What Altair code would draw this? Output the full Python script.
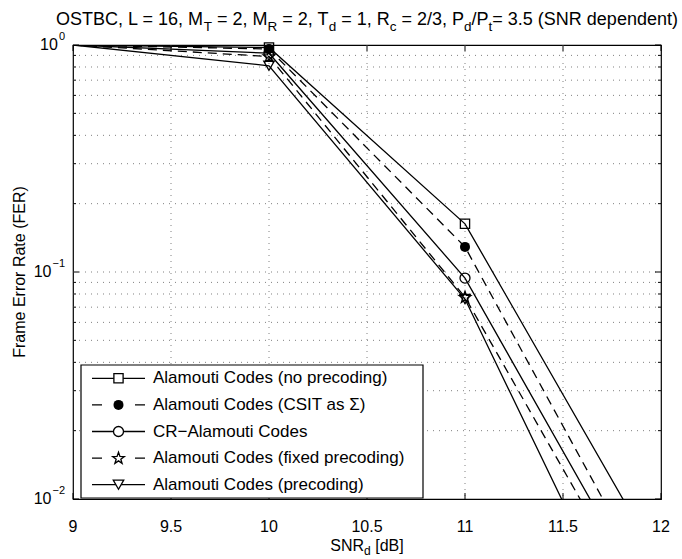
import math
import altair as alt
import pandas as pd

# ---------------- data ----------------
snr = [9, 10, 11, 12]
series_names = [
    "Alamouti Codes (no precoding)",
    "Alamouti Codes (CSIT as Σ)",
    "CR−Alamouti Codes",
    "Alamouti Codes (fixed precoding)",
    "Alamouti Codes (precoding)",
]
fer_no_precoding = [1.0, 0.975, 0.163, 0.0051]
fer_csit = [1.0, 0.96, 0.129, 0.0034]
fer_cr = [1.0, 0.92, 0.094, 0.0028]
fer_fixed = [1.0, 0.89, 0.0775, 0.00237]
fer_precoding = [1.0, 0.81, 0.076, 0.00124]
series_values = [fer_no_precoding, fer_csit, fer_cr, fer_fixed, fer_precoding]
series_filled = [False, True, False, False, False]
series_dashed = [False, True, False, True, False]

x_ticks = [9, 9.5, 10, 10.5, 11, 11.5, 12]
x_tick_labels = ["9", "9.5", "10", "10.5", "11", "11.5", "12"]
y_major = [1, 0.1, 0.01]
y_major_exp = ["0", "−1", "−2"]
y_minor = [0.02, 0.03, 0.04, 0.05, 0.06, 0.07, 0.08, 0.09,
           0.2, 0.3, 0.4, 0.5, 0.6, 0.7, 0.8, 0.9]

title_segments = [("OSTBC, L = 16, M", 0), ("T", 1), (" = 2, M", 0), ("R", 1),
                  (" = 2, T", 0), ("d", 1), (" = 1, R", 0), ("c", 1),
                  (" = 2/3, P", 0), ("d", 1), ("/P", 0), ("t", 1),
                  ("= 3.5 (SNR dependent)", 0)]
xlabel_segments = [("SNR", 0), ("d", 1), (" [dB]", 0)]
ylabel_text = "Frame Error Rate (FER)"

# ---------------- styles / layout ----------------
# five-pointed star symbol path in the [-1, 1] box
_pts = []
for k in range(10):
    r = 1.0 if k % 2 == 0 else 0.40
    ang = math.radians(-90 + 36 * k)
    _pts.append(f"{r * math.cos(ang):.3f},{r * math.sin(ang) + 0.05:.3f}")
STAR = "M" + " L".join(_pts) + " Z"
series_shapes = ["square", "circle", "circle", STAR, "triangle-down"]
series_sizes = [85, 100, 100, 150, 110]

W, H = 588, 454
FONT = "Liberation Sans"
one = pd.DataFrame({"a": [0]})
xs = alt.Scale(domain=[9, 12], nice=False, zero=False)
ys = alt.Scale(type="log", domain=[0.01, 1], nice=False)

AW = {' ': 278, ',': 278, '.': 278, '/': 278, '=': 584, '(': 333, ')': 333,
      '[': 278, ']': 278, '−': 584, '-': 333,
      'O': 778, 'S': 667, 'T': 611, 'B': 667, 'C': 722, 'L': 556, 'M': 833,
      'R': 722, 'P': 667, 'N': 722, 'd': 556, 'e': 556, 'p': 556, 'n': 556,
      't': 278, 'c': 500}
for dch in "0123456789":
    AW[dch] = 556


def text_width(s, size):
    return sum(AW.get(c, 556) for c in s) * size / 1000.0


def seg_marks(segments, x_center, y_base, size, sub_scale=0.75, sub_dy=6):
    total = sum(text_width(t, size * sub_scale if sub else size) for t, sub in segments)
    x = x_center - total / 2
    marks = []
    for t, sub in segments:
        fs = size * sub_scale if sub else size
        lead = len(t) - len(t.lstrip(" "))
        shown = t.strip(" ")
        xpos = x + text_width(" " * lead, fs)
        if shown:
            marks.append(
                alt.Chart(one).mark_text(text=shown, align="left", baseline="alphabetic",
                                         font=FONT, fontSize=fs, color="black")
                .encode(x=alt.value(xpos), y=alt.value(y_base + (sub_dy if sub else 0)))
            )
        x += text_width(t, fs)
    return marks


layers = []

# grid
grid_col = "#808080"
layers.append(
    alt.Chart(pd.DataFrame({"v": x_ticks[1:-1]}))
    .mark_rule(color=grid_col, strokeWidth=1, strokeDash=[1, 5])
    .encode(x=alt.X("v:Q", scale=xs, axis=None), y=alt.value(0), y2=alt.value(H))
)
layers.append(
    alt.Chart(pd.DataFrame({"v": y_minor + [0.1]}))
    .mark_rule(color=grid_col, strokeWidth=1, strokeDash=[1, 5])
    .encode(y=alt.Y("v:Q", scale=ys, axis=None), x=alt.value(0), x2=alt.value(W))
)

# ticks (inward, on all four sides)
xt = pd.DataFrame({"v": x_ticks})
for y0, y1 in [(H, H - 6), (0, 6)]:
    layers.append(
        alt.Chart(xt).mark_rule(color="black", strokeWidth=1)
        .encode(x=alt.X("v:Q", scale=xs, axis=None), y=alt.value(y0), y2=alt.value(y1))
    )
for vals, ln in [(y_major, 6), (y_minor, 3)]:
    yt = pd.DataFrame({"v": vals})
    for x0, x1 in [(0, ln), (W, W - ln)]:
        layers.append(
            alt.Chart(yt).mark_rule(color="black", strokeWidth=1)
            .encode(y=alt.Y("v:Q", scale=ys, axis=None), x=alt.value(x0), x2=alt.value(x1))
        )

# data lines and markers
for name, vals, shp, sz, fil, dsh in zip(series_names, series_values, series_shapes,
                                         series_sizes, series_filled, series_dashed):
    df = pd.DataFrame({"snr": snr, "fer": vals, "series": name})
    line_kw = dict(color="black", strokeWidth=1.3, clip=True)
    if dsh:
        line_kw["strokeDash"] = [9, 6]
    layers.append(
        alt.Chart(df).mark_line(**line_kw)
        .encode(x=alt.X("snr:Q", scale=xs, axis=None), y=alt.Y("fer:Q", scale=ys, axis=None))
    )
    layers.append(
        alt.Chart(df).transform_filter("datum.snr > 9 && datum.snr < 12")
        .mark_point(shape=shp, filled=fil, color="black", size=sz,
                    strokeWidth=1.3, opacity=1)
        .encode(x=alt.X("snr:Q", scale=xs, axis=None), y=alt.Y("fer:Q", scale=ys, axis=None))
    )

# legend
LX0, LX1, LY0, LY1 = 8, 350, 320, 453
layers.append(
    alt.Chart(one).mark_rect(fill="white", stroke="black", strokeWidth=1.2)
    .encode(x=alt.value(LX0), x2=alt.value(LX1), y=alt.value(LY0), y2=alt.value(LY1))
)
row_h = (LY1 - LY0) / len(series_names)
for i, (name, shp, sz, fil, dsh) in enumerate(zip(series_names, series_shapes, series_sizes,
                                                  series_filled, series_dashed)):
    ry = LY0 + row_h * (i + 0.5)
    rule_kw = dict(color="black", strokeWidth=1.3)
    if dsh:
        rule_kw["strokeDash"] = [10, 33]
    layers.append(
        alt.Chart(one).mark_rule(**rule_kw)
        .encode(x=alt.value(19), x2=alt.value(72), y=alt.value(ry))
    )
    layers.append(
        alt.Chart(one).mark_point(shape=shp, filled=fil, color="black", size=sz,
                                  strokeWidth=1.3, opacity=1,
                                  fill="black" if fil else "white")
        .encode(x=alt.value(45.5), y=alt.value(ry))
    )
    layers.append(
        alt.Chart(one).mark_text(text=name, align="left", baseline="middle",
                                 font=FONT, fontSize=17, color="black")
        .encode(x=alt.value(80), y=alt.value(ry))
    )

# x tick labels
layers.append(
    alt.Chart(pd.DataFrame({"v": x_ticks, "lab": x_tick_labels}))
    .mark_text(baseline="alphabetic", align="center", font=FONT, fontSize=16, color="black")
    .encode(x=alt.X("v:Q", scale=xs, axis=None), y=alt.value(H + 33), text="lab:N")
)

# y tick labels (10 with superscript exponent)
for v, e in zip(y_major, y_major_exp):
    ew = text_width(e, 11)
    d = pd.DataFrame({"v": [v]})
    layers.append(
        alt.Chart(d).mark_text(text="10", align="right", baseline="middle",
                               font=FONT, fontSize=16, color="black")
        .encode(y=alt.Y("v:Q", scale=ys, axis=None), x=alt.value(-8 - ew - 1))
    )
    layers.append(
        alt.Chart(d).mark_text(text=e, align="right", baseline="middle", dy=-8,
                               font=FONT, fontSize=11, color="black")
        .encode(y=alt.Y("v:Q", scale=ys, axis=None), x=alt.value(-8))
    )

# axis titles
layers.append(
    alt.Chart(one).mark_text(text=ylabel_text, angle=270, align="center", baseline="middle",
                             font=FONT, fontSize=16, color="black")
    .encode(x=alt.value(-53), y=alt.value(H / 2))
)
layers += seg_marks(xlabel_segments, W / 2, H + 52, 16, sub_dy=4)

# title
layers += seg_marks(title_segments, W / 2, -20, 18)

chart = (
    alt.layer(*layers)
    .properties(width=W, height=H,
                autosize=alt.AutoSizeParams(type="none"),
                padding={"left": 73, "top": 45, "right": 21, "bottom": 60},
                background="white")
    .configure_view(stroke="black", strokeWidth=1.2)
)

chart.save("out.html", embed_options={"renderer": "svg", "actions": False})
